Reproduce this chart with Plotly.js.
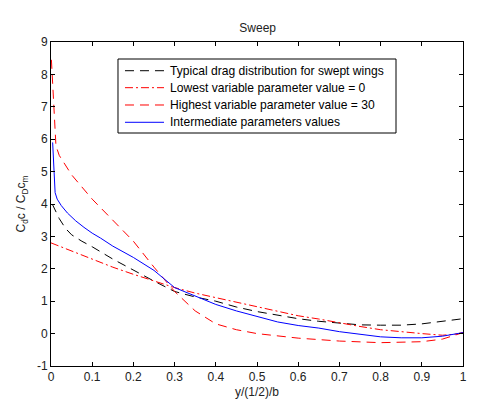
<!DOCTYPE html>
<html>
<head>
<meta charset="utf-8">
<script src="https://cdn.plot.ly/plotly-3.0.1.min.js"></script>
<style>html,body{margin:0;padding:0;background:#fff;}#chart{width:495px;height:413px;}</style>
</head>
<body>
<div id="chart"></div>
<script>
const typicalX = [0.003,0.01,0.02,0.035,0.05,0.075,0.1,0.15,0.2,0.25,0.3,0.35,0.4,0.45,0.5,0.55,0.6,0.65,0.7,0.75,0.8,0.85,0.9,0.95,1.0];
const typicalY = [4.0,3.8,3.55,3.25,3.05,2.85,2.68,2.3,1.95,1.62,1.3,1.13,1.0,0.82,0.68,0.56,0.46,0.38,0.32,0.27,0.26,0.26,0.30,0.38,0.46];

const lowestX = [0,0.05,0.1,0.15,0.2,0.25,0.3,0.35,0.4,0.45,0.5,0.55,0.6,0.65,0.7,0.75,0.8,0.85,0.9,0.95,0.98,1.0];
const lowestY = [2.8,2.55,2.3,2.05,1.83,1.62,1.42,1.25,1.11,0.97,0.83,0.68,0.55,0.45,0.33,0.22,0.12,0.05,0.0,-0.05,-0.02,0.03];

const highestX = [0.001,0.004,0.008,0.012,0.02,0.05,0.1,0.15,0.2,0.25,0.3,0.35,0.4,0.45,0.5,0.6,0.7,0.8,0.9,0.95,1.0];
const highestY = [8.45,7.6,6.5,5.8,5.5,4.9,4.15,3.5,2.85,2.05,1.3,0.7,0.3,0.12,0.0,-0.14,-0.23,-0.28,-0.25,-0.17,0.03];

const interX = [0.004,0.006,0.008,0.01,0.015,0.025,0.04,0.06,0.08,0.1,0.12,0.15,0.2,0.25,0.3,0.35,0.4,0.45,0.5,0.55,0.6,0.65,0.7,0.75,0.8,0.85,0.9,0.95,1.0];
const interY = [5.9,5.5,4.8,4.35,4.15,3.95,3.72,3.48,3.28,3.1,2.95,2.7,2.35,1.95,1.42,1.15,0.9,0.7,0.53,0.36,0.25,0.17,0.06,-0.03,-0.1,-0.13,-0.13,-0.08,0.03];

const names = [
  'Typical drag distribution for swept wings',
  'Lowest variable parameter value = 0',
  'Highest variable parameter value = 30',
  'Intermediate parameters values'
];
const xTicks = [0,0.1,0.2,0.3,0.4,0.5,0.6,0.7,0.8,0.9,1];
const yTicks = [-1,0,1,2,3,4,5,6,7,8,9];

const styles = [
  {color: '#000000', width: 1, dash: '9px,6px'},
  {color: '#ff0000', width: 1, dash: '8px,3px,2px,3px'},
  {color: '#ff0000', width: 1, dash: '9px,6px'},
  {color: '#0000ff', width: 1, dash: 'solid'}
];
const seriesX = [typicalX, lowestX, highestX, interX];
const seriesY = [typicalY, lowestY, highestY, interY];

const traces = seriesX.map((xs, i) => ({
  x: xs, y: seriesY[i], name: names[i], mode: 'lines', line: styles[i], showlegend: false
}));

// custom legend (paper coords of plot area)
const legBox = {x0: 0.1626, x1: 0.8374, y0: 0.7191, y1: 0.9475};
const legRows = [0.9114, 0.8590, 0.8056, 0.7522];
const shapes = [{type: 'rect', xref: 'paper', yref: 'paper', x0: legBox.x0, x1: legBox.x1, y0: legBox.y0, y1: legBox.y1,
  line: {color: '#000', width: 1}, fillcolor: '#fff', layer: 'above'}];
const annotations = [];
legRows.forEach((ry, i) => {
  shapes.push({type: 'line', xref: 'paper', yref: 'paper', x0: 0.1796, x1: 0.2743, y0: ry, y1: ry,
    line: styles[i], layer: 'above'});
  annotations.push({xref: 'paper', yref: 'paper', x: 0.2850, y: ry, xanchor: 'left', yanchor: 'middle',
    text: names[i], showarrow: false, font: {size: 12.1, color: '#000'}});
});

const fontFam = 'Liberation Sans, Arial, sans-serif';
const axisCommon = {
  showline: true, linecolor: '#000', linewidth: 1, mirror: 'ticks',
  ticks: 'inside', ticklen: 4, tickcolor: '#000', showgrid: false, zeroline: false,
  tickfont: {family: fontFam, size: 12, color: '#222'}
};

const layout = {
  width: 495, height: 413,
  margin: {l: 51, r: 32, t: 42, b: 47},
  paper_bgcolor: '#fff', plot_bgcolor: '#fff',
  font: {family: fontFam, size: 12, color: '#000'},
  title: {text: 'Sweep', x: 0.5206, xanchor: 'center', y: 0.932, yanchor: 'middle', font: {size: 12, color: '#222'}},
  xaxis: Object.assign({}, axisCommon, {range: [0, 1], tickvals: xTicks, ticktext: xTicks.map(String),
    title: {text: 'y/(1/2)/b', standoff: 4, font: {size: 12, color: '#222'}}}),
  yaxis: Object.assign({}, axisCommon, {range: [-1, 9], tickvals: yTicks, ticktext: yTicks.map(String),
    title: {text: 'C<sub>d</sub>c / C<sub>D</sub>c<sub>m</sub>', standoff: 8, font: {size: 12, color: '#222'}}}),
  showlegend: false,
  shapes: shapes,
  annotations: annotations
};

Plotly.newPlot('chart', traces, layout, {displayModeBar: false, staticPlot: true});
</script>
</body>
</html>
